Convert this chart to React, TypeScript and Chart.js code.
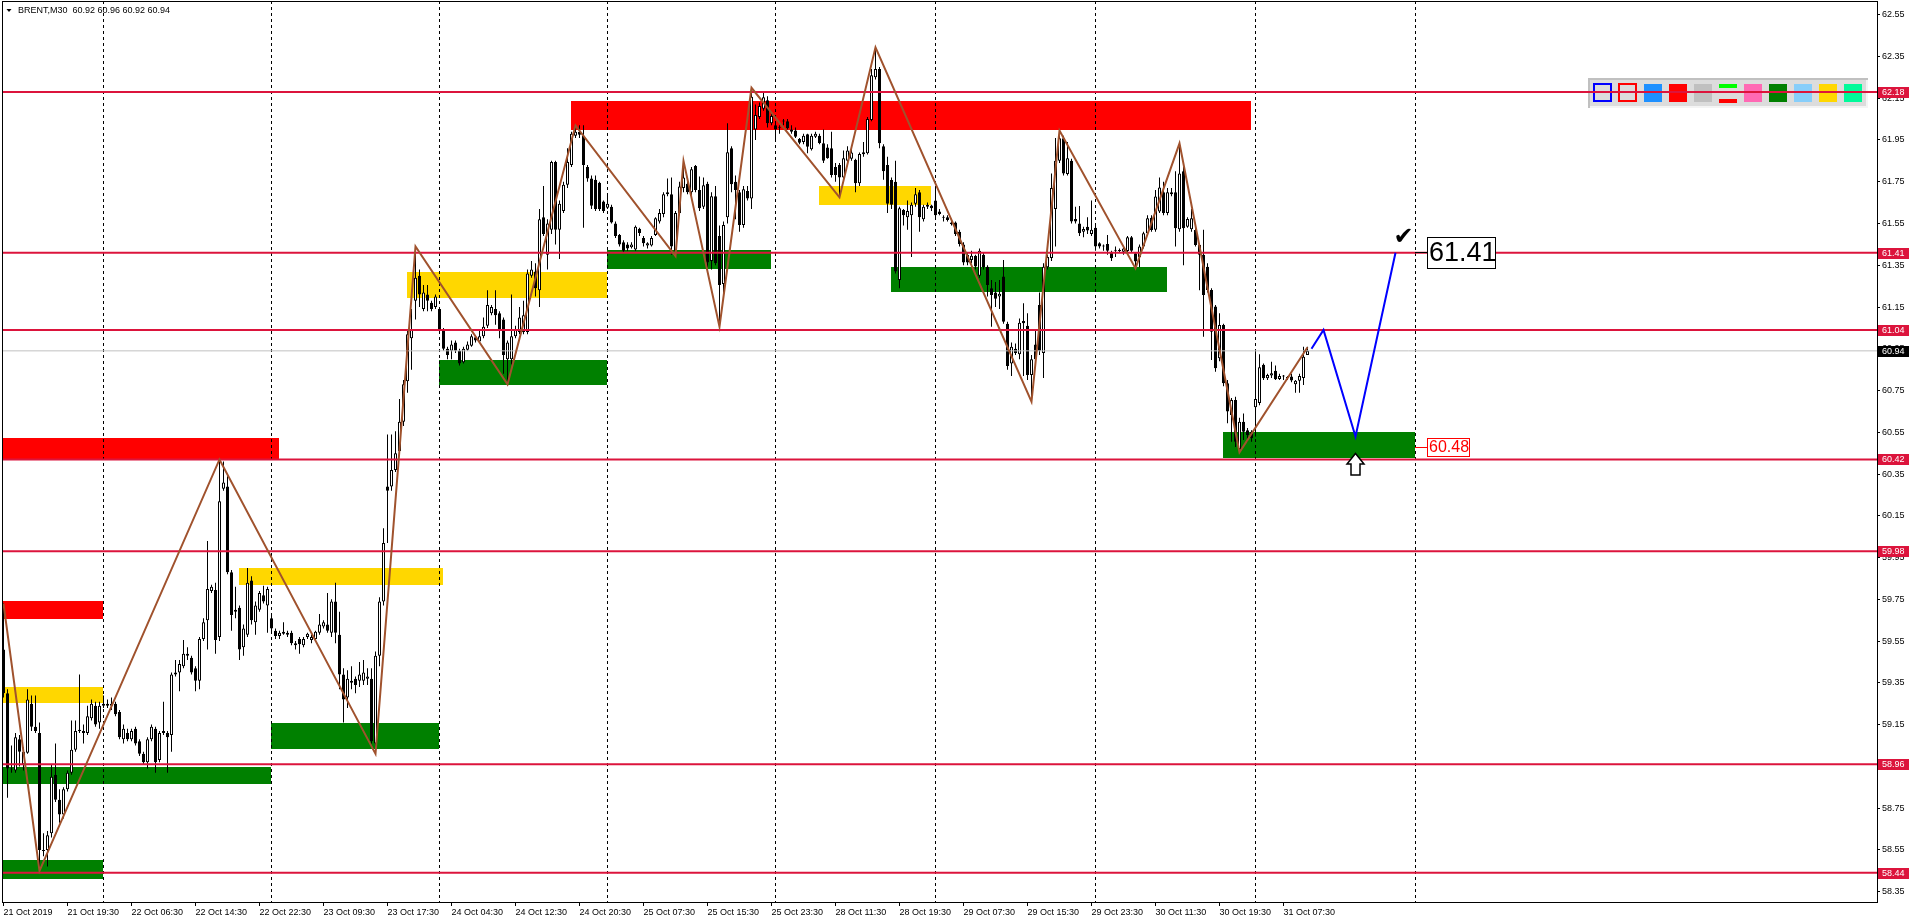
import { useEffect, useRef } from 'react';
import { Chart, registerables } from 'chart.js';

Chart.register(...registerables);

const FONT = '"Liberation Sans", Arial, sans-serif';

// ---------- header ----------
const symbolTitle = 'BRENT,M30';
const lastQuote = ['60.92', '60.96', '60.92', '60.94'];

// ---------- candles (M30 bars, index 0 = 21 Oct 2019 11:30) ----------
const opens = [
  59.51, 59.30, 58.94, 58.93, 59.08, 58.96, 59.015, 59.25, 59.14, 59.11,
  58.55, 58.55, 58.63, 58.91, 58.79, 58.72, 58.84, 58.92, 59.03, 59.12,
  59.11, 59.11, 59.18, 59.24, 59.16, 59.24, 59.25, 59.24, 59.25, 59.21,
  59.08, 59.11, 59.08, 59.13, 59.07, 59.01, 58.97, 59.08, 59.13, 58.98,
  59.12, 59.11, 59.10, 59.39, 59.40, 59.43, 59.49, 59.47, 59.42, 59.36,
  59.56, 59.65, 59.79, 59.795, 59.57, 60.28, 60.29, 59.88, 59.69, 59.71,
  59.52, 59.58, 59.84, 59.64, 59.70, 59.77, 59.72, 59.66, 59.60, 59.575,
  59.585, 59.59, 59.59, 59.53, 59.56, 59.53, 59.57, 59.555, 59.56, 59.59,
  59.62, 59.63, 59.59, 59.74, 59.58, 59.39, 59.28, 59.35, 59.37, 59.36,
  59.36, 59.37, 59.37, 59.06, 59.48, 59.74, 60.29, 60.29, 60.37, 60.46,
  60.60, 60.795, 61.00, 61.18, 61.30, 61.14, 61.21, 61.17, 61.15, 61.14,
  61.04, 60.95, 60.94, 60.98, 60.94, 60.885, 60.945, 60.965, 61.005, 60.985,
  61.01, 61.06, 61.12, 61.14, 61.12, 61.09, 60.90, 60.90, 61.01, 61.03,
  61.03, 61.03, 61.30, 61.32, 61.23, 61.58, 61.40, 61.52, 61.845, 61.52,
  61.61, 61.735, 61.83, 61.97, 61.99, 61.97, 61.82, 61.765, 61.76, 61.745,
  61.655, 61.625, 61.63, 61.55, 61.495, 61.46, 61.45, 61.436, 61.425, 61.525,
  61.48, 61.445, 61.445, 61.495, 61.56, 61.596, 61.69, 61.69, 61.42, 61.60,
  61.72, 61.74, 61.70, 61.825, 61.71, 61.63, 61.74, 61.37, 61.68, 61.49,
  61.26, 61.58, 61.91, 61.75, 61.70, 61.543, 61.706, 61.67, 62.00, 62.06,
  62.10, 62.14, 62.03, 62.02, 62.01, 62.04, 62.04, 62.00, 61.995, 61.955,
  61.94, 61.977, 61.905, 61.966, 61.97, 61.934, 61.914, 61.91, 61.82, 61.83,
  61.77, 61.85, 61.86, 61.855, 61.743, 61.882, 61.887, 62.046, 62.25, 62.29,
  61.92, 61.83, 61.758, 61.75, 61.28, 61.615, 61.58, 61.59, 61.644, 61.70,
  61.57, 61.63, 61.636, 61.66, 61.607, 61.58, 61.58, 61.555, 61.555, 61.51,
  61.45, 61.40, 61.375, 61.395, 61.30, 61.40, 61.343, 61.24, 61.22, 61.20,
  61.296, 61.07, 60.88, 60.95, 60.924, 61.083, 61.06, 60.824, 60.97, 61.16,
  60.93, 61.34, 61.385, 61.62, 61.85, 61.958, 61.787, 61.85, 61.572, 61.55,
  61.51, 61.535, 61.50, 61.53, 61.455, 61.44, 61.452, 61.41, 61.42, 61.42,
  61.415, 61.418, 61.484, 61.408, 61.39, 61.44, 61.503, 61.578, 61.52, 61.607,
  61.70, 61.60, 61.69, 61.70, 61.522, 61.80, 61.535, 61.522, 61.519, 61.447,
  61.40, 61.343, 61.232, 61.152, 60.905, 61.064, 60.785, 60.633, 60.705, 60.47,
  60.601, 60.56, 60.553, 60.67, 60.69, 60.873, 60.809, 60.822, 60.845, 60.805,
  60.817, 60.81, 60.817, 60.78, 60.797, 60.81, 60.92,
];
const highs = [
  59.73, 59.32, 59.05, 59.11, 59.10, 59.04, 59.32, 59.29, 59.29, 59.16,
  58.63, 58.64, 58.96, 59.06, 58.84, 58.85, 58.93, 59.17, 59.17, 59.39,
  59.15, 59.24, 59.27, 59.26, 59.26, 59.29, 59.27, 59.28, 59.26, 59.22,
  59.15, 59.13, 59.13, 59.14, 59.08, 59.02, 59.09, 59.15, 59.14, 59.12,
  59.26, 59.12, 59.40, 59.46, 59.46, 59.555, 59.52, 59.48, 59.43, 59.57,
  59.66, 60.03, 59.82, 59.83, 60.42, 60.41, 60.34, 59.89, 59.81, 59.72,
  59.63, 59.90, 59.86, 59.74, 59.79, 59.815, 59.81, 59.67, 59.61, 59.60,
  59.64, 59.60, 59.60, 59.55, 59.57, 59.57, 59.59, 59.58, 59.60, 59.68,
  59.65, 59.78, 59.75, 59.83, 59.69, 59.42, 59.41, 59.43, 59.38, 59.45,
  59.46, 59.42, 59.42, 59.50, 59.76, 60.09, 60.54, 60.54, 60.555, 60.71,
  60.80, 61.04, 61.14, 61.44, 61.33, 61.255, 61.255, 61.18, 61.21, 61.15,
  61.05, 60.96, 60.99, 60.99, 60.95, 60.96, 60.985, 61.02, 61.01, 61.04,
  61.10, 61.23, 61.16, 61.23, 61.13, 61.10, 60.99, 61.21, 61.06, 61.15,
  61.18, 61.33, 61.37, 61.36, 61.62, 61.73, 61.57, 61.85, 61.85, 61.66,
  61.75, 61.91, 61.99, 62.02, 62.02, 62.02, 61.83, 61.78, 61.78, 61.75,
  61.66, 61.69, 61.64, 61.56, 61.50, 61.47, 61.46, 61.46, 61.54, 61.53,
  61.49, 61.46, 61.49, 61.58, 61.62, 61.70, 61.766, 61.77, 61.61, 61.75,
  61.85, 61.76, 61.82, 61.83, 61.775, 61.77, 61.75, 61.70, 61.73, 61.54,
  61.56, 62.03, 61.92, 61.78, 61.71, 61.73, 61.73, 62.20, 62.12, 62.13,
  62.185, 62.16, 62.08, 62.03, 62.02, 62.05, 62.05, 62.02, 62.01, 61.96,
  61.98, 61.98, 61.98, 61.99, 61.98, 62.00, 61.93, 61.99, 61.84, 61.84,
  61.90, 61.92, 61.92, 61.86, 61.89, 61.94, 62.06, 62.29, 62.394, 62.30,
  61.93, 61.87, 61.77, 61.85, 61.63, 61.62, 61.66, 61.65, 61.72, 61.71,
  61.64, 61.65, 61.64, 61.73, 61.62, 61.59, 61.59, 61.57, 61.56, 61.52,
  61.46, 61.41, 61.42, 61.40, 61.43, 61.41, 61.35, 61.28, 61.27, 61.28,
  61.375, 61.08, 60.98, 60.975, 61.095, 61.168, 61.12, 60.92, 61.04, 61.22,
  61.36, 61.40, 61.79, 61.96, 61.995, 61.97, 61.94, 61.86, 61.63, 61.634,
  61.535, 61.58, 61.66, 61.55, 61.46, 61.45, 61.495, 61.42, 61.44, 61.43,
  61.44, 61.49, 61.49, 61.41, 61.45, 61.51, 61.59, 61.59, 61.71, 61.77,
  61.75, 61.72, 61.72, 61.80, 61.934, 61.82, 61.58, 61.62, 61.53, 61.45,
  61.52, 61.36, 61.24, 61.16, 61.12, 61.07, 60.80, 60.714, 60.72, 60.62,
  60.64, 60.57, 60.56, 60.94, 60.924, 60.88, 60.83, 60.888, 60.87, 60.83,
  60.825, 60.82, 60.83, 60.80, 60.83, 60.96, 60.96,
];
const lows = [
  59.28, 58.80, 58.92, 58.92, 58.95, 58.93, 59.01, 59.12, 59.11, 58.45,
  58.52, 58.47, 58.61, 58.78, 58.68, 58.70, 58.83, 58.91, 59.02, 59.11,
  59.06, 59.10, 59.17, 59.14, 59.13, 59.23, 59.23, 59.22, 59.19, 59.08,
  59.06, 59.07, 59.07, 59.05, 59.00, 58.96, 58.94, 59.07, 58.92, 58.97,
  59.10, 58.92, 59.02, 59.38, 59.31, 59.42, 59.46, 59.39, 59.31, 59.32,
  59.55, 59.51, 59.78, 59.49, 59.55, 60.27, 59.87, 59.60, 59.66, 59.46,
  59.48, 59.57, 59.63, 59.58, 59.69, 59.73, 59.59, 59.59, 59.56, 59.56,
  59.58, 59.57, 59.53, 59.51, 59.49, 59.52, 59.56, 59.54, 59.55, 59.58,
  59.61, 59.59, 59.57, 59.54, 59.32, 59.16, 59.23, 59.32, 59.30, 59.33,
  59.34, 59.34, 59.06, 59.01, 59.43, 59.72, 60.02, 60.27, 60.36, 60.45,
  60.58, 60.74, 60.85, 61.09, 61.15, 61.13, 61.13, 61.13, 61.14, 61.03,
  60.94, 60.90, 60.90, 60.93, 60.87, 60.88, 60.94, 60.96, 60.98, 60.98,
  61.00, 61.05, 61.11, 61.065, 61.00, 60.83, 60.78, 60.875, 61.00, 61.02,
  61.02, 61.02, 61.29, 61.20, 61.15, 61.49, 61.33, 61.50, 61.45, 61.38,
  61.60, 61.72, 61.82, 61.96, 61.96, 61.53, 61.75, 61.62, 61.61, 61.61,
  61.60, 61.62, 61.55, 61.48, 61.44, 61.41, 61.42, 61.43, 61.42, 61.49,
  61.44, 61.43, 61.44, 61.49, 61.55, 61.58, 61.68, 61.40, 61.394, 61.59,
  61.70, 61.69, 61.68, 61.70, 61.61, 61.62, 61.34, 61.33, 61.35, 61.056,
  61.20, 61.55, 61.70, 61.57, 61.51, 61.53, 61.66, 61.62, 61.95, 62.05,
  62.09, 62.01, 62.02, 61.94, 61.98, 62.02, 62.00, 61.98, 61.96, 61.93,
  61.93, 61.886, 61.90, 61.96, 61.93, 61.84, 61.86, 61.77, 61.75, 61.675,
  61.76, 61.84, 61.85, 61.70, 61.73, 61.87, 61.88, 62.04, 62.24, 61.91,
  61.76, 61.60, 61.62, 61.31, 61.24, 61.54, 61.52, 61.39, 61.63, 61.51,
  61.56, 61.62, 61.61, 61.57, 61.59, 61.56, 61.56, 61.54, 61.49, 61.44,
  61.35, 61.35, 61.36, 61.33, 61.29, 61.33, 61.20, 61.056, 61.15, 61.14,
  61.07, 60.85, 60.82, 60.92, 60.90, 60.82, 60.80, 60.697, 60.89, 60.92,
  60.81, 61.33, 61.37, 61.44, 61.84, 61.78, 61.78, 61.55, 61.55, 61.49,
  61.484, 61.50, 61.49, 61.42, 61.43, 61.42, 61.40, 61.37, 61.39, 61.41,
  61.40, 61.41, 61.41, 61.335, 61.34, 61.43, 61.49, 61.51, 61.51, 61.60,
  61.59, 61.59, 61.68, 61.44, 61.51, 61.35, 61.53, 61.51, 61.44, 61.23,
  61.008, 61.22, 60.896, 60.84, 60.89, 60.77, 60.593, 60.505, 60.48, 60.454,
  60.513, 60.505, 60.505, 60.53, 60.68, 60.80, 60.80, 60.81, 60.80, 60.80,
  60.80, 60.80, 60.79, 60.74, 60.74, 60.776, 60.92,
];
const closes = [
  59.30, 58.94, 58.935, 59.09, 59.02, 59.02, 59.27, 59.14, 59.12, 58.55,
  58.545, 58.62, 58.90, 58.79, 58.72, 58.84, 58.92, 59.03, 59.12, 59.125,
  59.12, 59.19, 59.25, 59.15, 59.24, 59.25, 59.24, 59.25, 59.20, 59.09,
  59.13, 59.08, 59.12, 59.06, 59.01, 58.97, 59.08, 59.14, 58.97, 59.11,
  59.11, 59.09, 59.39, 59.40, 59.44, 59.49, 59.48, 59.40, 59.36, 59.56,
  59.64, 59.80, 59.81, 59.555, 60.22, 60.31, 59.88, 59.675, 59.70, 59.51,
  59.61, 59.83, 59.65, 59.72, 59.78, 59.74, 59.80, 59.61, 59.575, 59.59,
  59.595, 59.58, 59.54, 59.54, 59.535, 59.56, 59.585, 59.57, 59.595, 59.63,
  59.64, 59.60, 59.74, 59.59, 59.39, 59.27, 59.37, 59.36, 59.34, 59.39,
  59.40, 59.38, 59.07, 59.48, 59.74, 60.02, 60.27, 60.37, 60.45, 60.60,
  60.78, 61.02, 61.04, 61.29, 61.21, 61.22, 61.18, 61.14, 61.20, 61.045,
  60.95, 60.92, 60.97, 60.94, 60.88, 60.95, 60.97, 61.01, 60.99, 61.01,
  61.055, 61.16, 61.15, 61.11, 61.045, 60.92, 60.98, 61.01, 61.04, 61.10,
  61.11, 61.31, 61.33, 61.24, 61.57, 61.50, 61.55, 61.845, 61.52, 61.645,
  61.735, 61.845, 61.98, 61.99, 61.975, 61.83, 61.765, 61.635, 61.62, 61.62,
  61.61, 61.645, 61.555, 61.49, 61.45, 61.42, 61.43, 61.449, 61.535, 61.505,
  61.455, 61.455, 61.48, 61.575, 61.60, 61.69, 61.70, 61.44, 61.60, 61.727,
  61.77, 61.70, 61.81, 61.71, 61.623, 61.733, 61.363, 61.68, 61.36, 61.256,
  61.543, 61.891, 61.738, 61.71, 61.543, 61.714, 61.67, 62.157, 62.07, 62.113,
  62.155, 62.03, 62.065, 62.00, 62.008, 62.038, 62.006, 61.99, 61.966, 61.937,
  61.97, 61.918, 61.97, 61.98, 61.935, 61.85, 61.862, 61.782, 61.782, 61.77,
  61.862, 61.90, 61.89, 61.743, 61.883, 61.891, 62.05, 62.26, 62.29, 61.934,
  61.80, 61.644, 61.64, 61.32, 61.623, 61.59, 61.61, 61.64, 61.69, 61.58,
  61.63, 61.64, 61.623, 61.59, 61.596, 61.578, 61.567, 61.548, 61.50, 61.452,
  61.363, 61.363, 61.395, 61.344, 61.42, 61.34, 61.256, 61.208, 61.19, 61.213,
  61.08, 60.868, 60.96, 60.93, 61.075, 61.072, 60.824, 60.90, 60.90, 60.94,
  61.343, 61.39, 61.72, 61.85, 61.958, 61.79, 61.862, 61.559, 61.559, 61.503,
  61.524, 61.516, 61.52, 61.44, 61.44, 61.442, 61.42, 61.383, 61.421, 61.418,
  61.43, 61.484, 61.42, 61.368, 61.44, 61.503, 61.575, 61.519, 61.679, 61.723,
  61.60, 61.70, 61.70, 61.527, 61.79, 61.527, 61.572, 61.575, 61.447, 61.40,
  61.208, 61.232, 61.032, 60.857, 61.064, 60.785, 60.65, 60.705, 60.505, 60.601,
  60.553, 60.537, 60.521, 60.71, 60.861, 60.809, 60.825, 60.833, 60.804, 60.82,
  60.817, 60.813, 60.798, 60.797, 60.82, 60.912, 60.94,
];

// ---------- axes ----------
const xTickBars = [0, 16, 32, 48, 64, 80, 96, 112, 128, 144, 160, 176, 192, 208, 224, 240, 256, 272, 288, 304, 320];
const xTickLabels = [
  '21 Oct 2019', '21 Oct 19:30', '22 Oct 06:30', '22 Oct 14:30', '22 Oct 22:30', '23 Oct 09:30',
  '23 Oct 17:30', '24 Oct 04:30', '24 Oct 12:30', '24 Oct 20:30', '25 Oct 07:30', '25 Oct 15:30',
  '25 Oct 23:30', '28 Oct 11:30', '28 Oct 19:30', '29 Oct 07:30', '29 Oct 15:30', '29 Oct 23:30',
  '30 Oct 11:30', '30 Oct 19:30', '31 Oct 07:30',
];
const yTickValues = [
  62.55, 62.35, 62.15, 61.95, 61.75, 61.55, 61.35, 61.15, 60.95, 60.75, 60.55,
  60.35, 60.15, 59.95, 59.75, 59.55, 59.35, 59.15, 58.95, 58.75, 58.55, 58.35,
];
const daySeparatorBars = [25, 67, 109, 151, 193, 233, 273, 313, 353];
const X_MIN = -0.375;
const X_MAX = 468.375;
const Y_MIN = 58.3005;
const Y_MAX = 62.6156;

// ---------- objects ----------
const levelPrices = [62.18, 61.41, 61.04, 60.42, 59.98, 58.96, 58.44];
const bidPrice = 60.94;

const zigzagBars = [0, 9, 54, 93, 103, 126, 143, 168, 170, 179, 187, 209, 218, 257, 264, 283, 294, 309, 326];
const zigzagPrices = [59.73, 58.45, 60.42, 59.01, 61.44, 60.78, 62.02, 61.394, 61.85, 61.056, 62.20, 61.675, 62.394, 60.697, 61.995, 61.335, 61.934, 60.454, 60.957];

const forecastBars = [327, 330, 338, 348];
const forecastPrices = [60.95, 61.04, 60.53, 61.41];

const zoneFromBar = [0, 0, 0, 0, 0, 59, 67, 101, 109, 142, 151, 204, 222, 305];
const zoneToBar = [25, 69, 25, 25, 67, 110, 109, 151, 151, 312, 192, 232, 291, 353];
const zoneHigh = [59.742, 60.525, 59.332, 58.50, 58.948, 59.90, 59.158, 61.32, 60.894, 62.137, 61.423, 61.73, 61.342, 60.553];
const zoneLow = [59.655, 60.417, 59.255, 58.41, 58.866, 59.82, 59.035, 61.193, 60.776, 62.00, 61.333, 61.639, 61.223, 60.429];
const zoneKind = ['supply', 'supply', 'pivot', 'demand', 'demand', 'pivot', 'demand', 'pivot', 'demand', 'supply', 'demand', 'pivot', 'demand', 'demand'];
const zoneColors: Record<string, string> = { supply: '#FF0000', demand: '#008000', pivot: '#FFD700' };

const targetPrice = 61.41;
const entryPrice = 60.48;
const targetLabel = '61.41';
const entryLabel = '60.48';

const paletteSwatches = ['#0000FF', '#FF0000', '#1E90FF', '#FF0000', '#C0C0C0', 'pair', '#FF69B4', '#008000', '#87CEFA', '#FFD700', '#00FA9A'];

const overlayPlugin = {
  id: 'mt4Overlay',
  beforeDraw(chart: any) {
    const { ctx, chartArea: a } = chart;
    const xs = chart.scales.x;
    const ys = chart.scales.y;
    ctx.save();
    ctx.fillStyle = '#ffffff';
    ctx.fillRect(0, 0, chart.width, chart.height);
    ctx.beginPath();
    ctx.rect(a.left, a.top, a.right - a.left, a.bottom - a.top);
    ctx.clip();
    for (let k = 0; k < zoneFromBar.length; k++) {
      const x1 = Math.round(xs.getPixelForValue(zoneFromBar[k]) - 0.5);
      const x2 = Math.round(xs.getPixelForValue(zoneToBar[k]) - 0.5);
      const y1 = Math.round(ys.getPixelForValue(zoneHigh[k]));
      const y2 = Math.round(ys.getPixelForValue(zoneLow[k]));
      ctx.fillStyle = zoneColors[zoneKind[k]];
      ctx.fillRect(x1, y1, x2 - x1, y2 - y1);
    }
    ctx.restore();
  },
  beforeDatasetsDraw(chart: any) {
    const { ctx } = chart;
    ctx.save();
    const px = 1588, py = 78, pw = 280, ph = 30;
    ctx.fillStyle = '#DCDCDC';
    ctx.fillRect(px, py, pw, ph);
    ctx.fillStyle = '#C0C0C0';
    ctx.fillRect(px, py, pw, 2);
    ctx.fillRect(px, py, 2, ph);
    ctx.fillStyle = '#F4F4F4';
    ctx.fillRect(px + 2, py + ph - 2, pw - 2, 2);
    ctx.fillRect(px + pw - 2, py + 2, 2, ph - 2);
    paletteSwatches.forEach((c, k) => {
      const sx = 1594 + 25 * k;
      if (k < 2) {
        ctx.strokeStyle = c;
        ctx.lineWidth = 2;
        ctx.strokeRect(sx, 84, 17, 17);
      } else if (c === 'pair') {
        ctx.fillStyle = '#00FF00';
        ctx.fillRect(sx, 84, 18, 4);
        ctx.fillStyle = '#FF0000';
        ctx.fillRect(sx, 99, 18, 4);
      } else {
        ctx.fillStyle = c;
        ctx.fillRect(sx, 84, 18, 18);
      }
    });
    ctx.restore();
  },
  afterDraw(chart: any) {
    const { ctx, chartArea: a } = chart;
    const xs = chart.scales.x;
    const ys = chart.scales.y;
    ctx.save();
    // frame
    ctx.fillStyle = '#000';
    ctx.fillRect(a.left, a.top, 1, a.bottom - a.top);
    ctx.fillRect(a.left, a.top, a.right - a.left, 1);

    // price labels on the axis
    ctx.font = `9px ${FONT}`;
    ctx.textBaseline = 'middle';
    ctx.textAlign = 'left';
    const axisLabel = (v: number, bg: string) => {
      const y = Math.round(ys.getPixelForValue(v));
      ctx.fillStyle = bg;
      ctx.fillRect(a.right + 1, y - 5, 31, 11);
      ctx.fillStyle = '#fff';
      ctx.fillText(v.toFixed(2), a.right + 5, y + 0.5);
    };
    levelPrices.forEach((v) => axisLabel(v, '#DC143C'));
    axisLabel(bidPrice, '#000000');

    // target label
    const anchorX = Math.round(xs.getPixelForValue(daySeparatorBars[daySeparatorBars.length - 1]) - 0.5);
    const ty = Math.round(ys.getPixelForValue(targetPrice));
    ctx.fillStyle = '#000';
    ctx.fillRect(anchorX, ty - 1, 12, 1);
    ctx.fillStyle = '#fff';
    ctx.fillRect(anchorX + 12, ty - 16, 69, 32);
    ctx.strokeStyle = '#000';
    ctx.lineWidth = 1;
    ctx.strokeRect(anchorX + 12.5, ty - 15.5, 68, 31);
    ctx.fillStyle = '#000';
    ctx.font = `27px ${FONT}`;
    ctx.fillText(targetLabel, anchorX + 14, ty + 1);

    // entry label
    const ey = Math.round(ys.getPixelForValue(entryPrice));
    ctx.fillStyle = '#FF0000';
    ctx.fillRect(anchorX, ey, 12, 1);
    ctx.fillStyle = '#fff';
    ctx.fillRect(anchorX + 12, ey - 9, 43, 19);
    ctx.strokeStyle = '#FF0000';
    ctx.strokeRect(anchorX + 12.5, ey - 8.5, 42, 18);
    ctx.fillStyle = '#FF0000';
    ctx.font = `16px ${FONT}`;
    ctx.fillText(entryLabel, anchorX + 14, ey + 1);

    // check mark at the forecast target
    const fx = xs.getPixelForValue(forecastBars[forecastBars.length - 1]);
    const fy = ys.getPixelForValue(forecastPrices[forecastPrices.length - 1]);
    ctx.fillStyle = '#000';
    ctx.font = '24px "DejaVu Sans"';
    ctx.textAlign = 'center';
    ctx.fillText('\u2714', fx + 8, fy - 15);

    // up arrow under the forecast low
    const ax = Math.round(xs.getPixelForValue(forecastBars[2])) - 0.5;
    const at = Math.round(ys.getPixelForValue(levelPrices[3])) - 5.5;
    ctx.beginPath();
    ctx.moveTo(ax, at);
    ctx.lineTo(ax + 8.5, at + 10.5);
    ctx.lineTo(ax + 4.5, at + 10.5);
    ctx.lineTo(ax + 4.5, at + 21.5);
    ctx.lineTo(ax - 4.5, at + 21.5);
    ctx.lineTo(ax - 4.5, at + 10.5);
    ctx.lineTo(ax - 8.5, at + 10.5);
    ctx.closePath();
    ctx.fillStyle = '#fff';
    ctx.fill();
    ctx.strokeStyle = '#000';
    ctx.lineWidth = 1.5;
    ctx.stroke();

    // title
    ctx.beginPath();
    ctx.moveTo(6.5, 9);
    ctx.lineTo(11.5, 9);
    ctx.lineTo(9, 12);
    ctx.closePath();
    ctx.fillStyle = '#000';
    ctx.fill();
    ctx.font = `9px ${FONT}`;
    ctx.textAlign = 'left';
    ctx.textBaseline = 'middle';
    ctx.fillText(`${symbolTitle}  ${lastQuote.join(' ')}`, 18, 11);
    ctx.restore();
  },
};

export default function App() {
  const ref = useRef<HTMLCanvasElement>(null);

  useEffect(() => {
    document.body.style.margin = '0';
    const canvas = ref.current;
    if (!canvas) return;
    const n = Math.min(opens.length, highs.length, lows.length, closes.length);
    const idx = Array.from({ length: n }, (_, i) => i);
    const wicks = idx.map((i) => ({ x: i, y: [lows[i], highs[i]] }));
    const bodies = idx.map((i) => ({ x: i, y: [opens[i], closes[i]] }));
    const bodyColors = idx.map((i) => (closes[i] >= opens[i] ? '#ffffff' : '#000000'));
    const zigzag = zigzagBars.map((b, i) => ({ x: b, y: zigzagPrices[i] }));
    const forecast = forecastBars.map((b, i) => ({ x: b, y: forecastPrices[i] }));

    const lineBase = { type: 'line', pointRadius: 0, tension: 0, fill: false };
    const tickFont = { family: FONT, size: 9 };

    const chart = new Chart(canvas, {
      type: 'bar',
      data: {
        datasets: [
          { ...lineBase, data: zigzag, borderColor: '#A0522D', borderWidth: 2, order: 0 },
          { ...lineBase, data: forecast, borderColor: '#0000FF', borderWidth: 2, order: 0 },
          ...levelPrices.map((v) => ({
            ...lineBase,
            data: [{ x: X_MIN, y: v }, { x: X_MAX, y: v }],
            borderColor: '#DC143C',
            borderWidth: 2,
            order: 1,
          })),
          {
            ...lineBase,
            data: [{ x: X_MIN, y: bidPrice }, { x: X_MAX, y: bidPrice }],
            borderColor: '#C0C0C0',
            borderWidth: 1,
            order: 1,
          },
          {
            type: 'bar',
            data: bodies,
            backgroundColor: bodyColors,
            borderColor: '#000000',
            borderWidth: 1,
            borderSkipped: false,
            barThickness: 3,
            minBarLength: 1,
            grouped: false,
            inflateAmount: 0,
            order: 2,
          },
          {
            type: 'bar',
            data: wicks,
            backgroundColor: '#000000',
            borderWidth: 0,
            barThickness: 1,
            grouped: false,
            inflateAmount: 0,
            order: 3,
          },
        ] as any,
      },
      options: {
        responsive: false,
        animation: false,
        devicePixelRatio: 1,
        events: [],
        layout: { padding: { left: 2, top: 1, right: 0, bottom: 0 } },
        plugins: { legend: { display: false }, tooltip: { enabled: false } },
        scales: {
          x: {
            type: 'linear',
            position: 'bottom',
            min: X_MIN,
            max: X_MAX,
            offset: false,
            grid: { display: true, drawOnChartArea: false, drawTicks: true, tickLength: 4, color: '#000', tickColor: '#000', offset: false },
            border: { display: true, color: '#000', width: 1 },
            ticks: {
              autoSkip: false,
              maxRotation: 0,
              minRotation: 0,
              align: 'start',
              padding: 1,
              color: '#000',
              font: tickFont,
              callback: (_v: any, i: number) => xTickLabels[i] ?? '',
            },
            afterBuildTicks: (s: any) => {
              s.ticks = xTickBars.map((v) => ({ value: v }));
            },
            afterFit: (s: any) => {
              s.height = 21;
              s.paddingLeft = 0;
              s.paddingRight = 0;
            },
          },
          xg: {
            type: 'linear',
            axis: 'x',
            position: 'top',
            min: X_MIN,
            max: X_MAX,
            offset: false,
            grid: { display: true, drawOnChartArea: true, drawTicks: false, color: '#000', lineWidth: 1, offset: false },
            border: { display: false, dash: [3, 3] },
            ticks: { display: false },
            afterBuildTicks: (s: any) => {
              s.ticks = daySeparatorBars.map((v) => ({ value: v }));
            },
            afterFit: (s: any) => {
              s.height = 0;
              s.paddingLeft = 0;
              s.paddingRight = 0;
            },
          },
          y: {
            type: 'linear',
            position: 'right',
            min: Y_MIN,
            max: Y_MAX,
            grid: { display: true, drawOnChartArea: false, drawTicks: true, tickLength: 3, color: '#000', tickColor: '#000' },
            border: { display: true, color: '#000', width: 1 },
            ticks: {
              autoSkip: false,
              padding: 2,
              color: '#000',
              font: tickFont,
              callback: (v: any) => Number(v).toFixed(2),
            },
            afterBuildTicks: (s: any) => {
              s.ticks = yTickValues.map((v) => ({ value: v }));
            },
            afterFit: (s: any) => {
              s.width = 39;
              s.paddingTop = 0;
              s.paddingBottom = 0;
            },
          },
        },
      } as any,
      plugins: [overlayPlugin],
    });
    return () => chart.destroy();
  }, []);

  return (
    <div style={{ position: 'fixed', left: 0, top: 0, width: 1916, height: 923, background: '#fff' }}>
      <canvas ref={ref} width={1916} height={923} style={{ display: 'block', width: 1916, height: 923 }} />
    </div>
  );
}
